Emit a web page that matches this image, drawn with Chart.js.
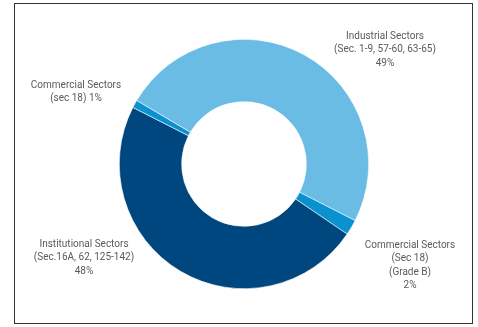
<!DOCTYPE html>
<html>
<head>
<meta charset="utf-8">
<script src="https://cdn.jsdelivr.net/npm/chart.js@4/dist/chart.umd.min.js"></script>
<style>
  html, body { margin: 0; padding: 0; background: #fff; }
  #wrap { position: relative; width: 478px; height: 327px; }
  #frame {
    position: absolute; left: 14px; top: 3px; width: 457px; height: 319px;
    border: 1.5px solid #333; pointer-events: none;
  }
</style>
</head>
<body>
<div id="wrap">
  <canvas id="chart" width="478" height="327"></canvas>
  <div id="frame"></div>
</div>
<script>
// Sector shares (%) in drawing order, clockwise
const sectores = ['Industrial', 'Commercial (Grade B)', 'Institutional', 'Commercial'];
const porcentajes = [49, 2, 48, 1];
const colores = ['#6bbce4', '#0a91d0', '#00467f', '#0a91d0'];

// Label text, one array of lines per sector
const etiquetas = [
  ['Industrial Sectors', '(Sec. 1-9, 57-60, 63-65)', '49%'],
  ['Commercial Sectors', '(Sec 18)', '(Grade B)', '2%'],
  ['Institutional Sectors', '(Sec.16A, 62, 125-142)', '48%'],
  ['Commercial Sectors', '(sec 18) 1%']
];
// offsets of each label's first line from the donut centre
const offsetsEtiquetas = [[141, -128], [166, 81], [-160, 80], [-168, -79]];

const pluginEtiquetas = {
  id: 'etiquetas',
  afterDraw(chart) {
    const arc = chart.getDatasetMeta(0).data[0];
    const ctx = chart.ctx;
    ctx.save();
    ctx.font = '10px Roboto';
    ctx.fillStyle = '#5a5a5a';
    ctx.textAlign = 'center';
    ctx.textBaseline = 'middle';
    etiquetas.forEach((lineas, i) => {
      const [dx, dy] = offsetsEtiquetas[i];
      lineas.forEach((t, j) => ctx.fillText(t, arc.x + dx, arc.y + dy + j * 13.5));
    });
    ctx.restore();
  }
};

new Chart(document.getElementById('chart'), {
  type: 'doughnut',
  data: {
    labels: sectores,
    datasets: [{
      data: porcentajes,
      backgroundColor: colores,
      borderColor: '#ffffff',
      borderWidth: 0.6
    }]
  },
  options: {
    responsive: false,
    animation: false,
    rotation: -59.4,
    cutout: '50%',
    layout: { padding: { left: 119, right: 109, top: 39, bottom: 38 } },
    plugins: {
      legend: { display: false },
      tooltip: { enabled: false }
    }
  },
  plugins: [pluginEtiquetas]
});
</script>
</body>
</html>
